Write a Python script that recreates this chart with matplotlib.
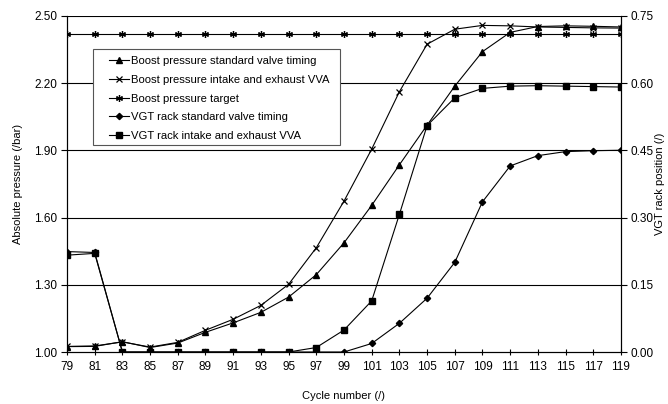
import matplotlib
matplotlib.use("Agg")
import matplotlib.pyplot as plt
from matplotlib.patches import Rectangle

plt.rcParams['font.family'] = ['Liberation Sans', 'DejaVu Sans']

cycles = [79, 81, 83, 85, 87, 89, 91, 93, 95, 97, 99, 101, 103, 105, 107, 109, 111, 113, 115, 117, 119]

boost_std = [1.024, 1.025, 1.046, 1.020, 1.040, 1.088, 1.130, 1.177, 1.245, 1.345, 1.487, 1.654,
             1.835, 2.012, 2.186, 2.340, 2.426, 2.452, 2.455, 2.453, 2.450]
boost_vva = [1.025, 1.027, 1.045, 1.022, 1.043, 1.097, 1.146, 1.208, 1.302, 1.465, 1.673, 1.905,
             2.161, 2.373, 2.440, 2.457, 2.455, 2.450, 2.448, 2.446, 2.445]
boost_target = [2.42] * 21
vgt_std = [0.224, 0.222, 0.0, 0.0, 0.0, 0.0, 0.0, 0.0, 0.0, 0.0, 0.0, 0.019,
           0.064, 0.120, 0.200, 0.335, 0.415, 0.438, 0.447, 0.449, 0.450]
vgt_vva = [0.216, 0.220, 0.0, 0.0, 0.0, 0.0, 0.0, 0.0, 0.0, 0.010, 0.049, 0.114,
           0.307, 0.505, 0.567, 0.588, 0.593, 0.594, 0.593, 0.592, 0.591]

left_ticks = [1.00, 1.30, 1.60, 1.90, 2.20, 2.50]
right_ticks = [0.00, 0.15, 0.30, 0.45, 0.60, 0.75]

W, H = 668, 404
fig = plt.figure(figsize=(W / 100, H / 100), dpi=100)
ax = fig.add_axes([0.1003, 0.1287, 0.8293, 0.8323])
ax2 = ax.twinx()

lw = 0.8
h1, = ax.plot(cycles, boost_std, color='black', lw=lw, marker='^', ms=4.5,
              label='Boost pressure standard valve timing')
h2, = ax.plot(cycles, boost_vva, color='black', lw=lw, marker='x', ms=4.5, mew=0.9,
              label='Boost pressure intake and exhaust VVA')
h3, = ax.plot(cycles, boost_target, color='black', lw=lw, marker=(6, 2, 0), ms=5, mew=0.9,
              label='Boost pressure target')
h4, = ax2.plot(cycles, vgt_std, color='black', lw=lw, marker='D', ms=3.2,
               label='VGT rack standard valve timing')
h5, = ax2.plot(cycles, vgt_vva, color='black', lw=lw, marker='s', ms=4.2,
               label='VGT rack intake and exhaust VVA')

ax.set_xlim(79, 119)
ax.set_ylim(1.0, 2.5)
ax2.set_ylim(0.0, 0.75)
ax.set_xticks(cycles)
ax.set_xticklabels([str(c) for c in cycles])
ax.set_yticks(left_ticks)
ax.set_yticklabels([f"{t:.2f}" for t in left_ticks])
ax2.set_yticks(right_ticks)
ax2.set_yticklabels([f"{t:.2f}" for t in right_ticks])

for t in left_ticks[1:]:
    ax.axhline(t, color='black', lw=0.8, zorder=0.5)

for a in (ax, ax2):
    a.spines['top'].set_visible(False)
    for s in a.spines.values():
        s.set_linewidth(0.8)
ax.tick_params(axis='x', direction='inout', length=5, width=0.8, labelsize=8.5, pad=4)
ax.tick_params(axis='y', direction='out', length=4, width=0.8, labelsize=8.5, pad=3)
ax2.tick_params(axis='y', direction='out', length=4, width=0.8, labelsize=8.5, pad=3)

ax.set_xlabel('Cycle number (/)', fontsize=8)
ax.xaxis.set_label_coords(0.5, -0.115)
ax.set_ylabel('Absolute pressure (/bar)', fontsize=8)
ax.yaxis.set_label_coords(-0.080, 0.5)
ax2.set_ylabel('VGT rack position (/)', fontsize=8, rotation=90)
ax2.yaxis.set_label_coords(1.062, 0.5)

# legend (frame drawn separately so the padding can differ horizontally / vertically)
leg = ax.legend(handles=[h1, h2, h3, h4, h5], loc='upper left',
                bbox_to_anchor=(107 / W, 1 - 54 / H), bbox_transform=fig.transFigure,
                borderaxespad=0, fontsize=8.1,
                handlelength=1.75, handletextpad=0.2, labelspacing=0.77,
                frameon=False, borderpad=0.2)
leg.set_zorder(10)
box = Rectangle((93 / W, 1 - 145 / H), (340 - 93) / W, (145 - 49) / H,
                transform=fig.transFigure, facecolor='white', edgecolor='#555555',
                lw=0.8, zorder=9)
ax.add_patch(box)
box.set_clip_on(False)
ax.set_zorder(ax2.get_zorder() + 1)
ax.patch.set_visible(False)

fig.savefig('out.png', dpi=100)
